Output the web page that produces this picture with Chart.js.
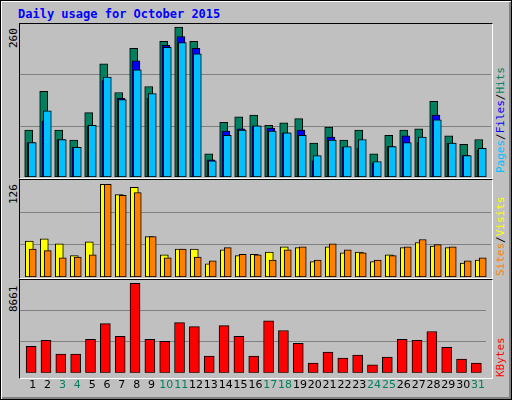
<!DOCTYPE html>
<html><head><meta charset="utf-8">
<script src="https://cdn.jsdelivr.net/npm/chart.js@4"></script>
<style>
body{margin:0;width:512px;height:400px;background:#c0c0c0;overflow:hidden;font-family:"DejaVu Sans Mono",monospace}
#frame{position:absolute;left:0;top:0;width:510px;height:398px;border:1px solid #000;box-shadow:inset 1px 1px 0 #fff,inset -2px -2px 0 #808080}
#title{position:absolute;left:18px;top:7px;color:#0000ff;font-weight:bold;font-size:12px}
.box{position:absolute;border:1px solid #000;border-right-color:#fff;border-bottom-color:#fff;}
.cv{position:absolute}
.rl{position:absolute;font-size:11px;transform-origin:0 0;white-space:nowrap;transform:rotate(-90deg)}
</style></head><body>
<div id="frame"></div>
<div id="title">Daily usage for October 2015</div>
<div class="box" style="left:19px;top:23px;width:472px;height:154px"></div>
<div class="box" style="left:19px;top:179px;width:472px;height:98px"></div>
<div class="box" style="left:19px;top:279px;width:472px;height:98px"></div>
<canvas id="c1" class="cv" style="left:20px;top:24px"></canvas>
<canvas id="c2" class="cv" style="left:20px;top:180px"></canvas>
<canvas id="c3" class="cv" style="left:20px;top:280px"></canvas>
<div class="rl" style="left:7px;top:48px">260</div>
<div class="rl" style="left:7px;top:204px">126</div>
<div class="rl" style="left:7px;top:312px">8661</div>
<div class="rl" style="left:494px;top:173px"><span style="color:#00c0ff">Pages</span>/<span style="color:#0000ff">Files</span>/<span style="color:#008060">Hits</span></div>
<div class="rl" style="left:494px;top:276px"><span style="color:#ff8000">Sites</span>/<span style="color:#ffff00">Visits</span></div>
<div class="rl" style="left:494px;top:377px"><span style="color:#ff0000">KBytes</span></div>
<script>
const days=[1,2,3,4,5,6,7,8,9,10,11,12,13,14,15,16,17,18,19,20,21,22,23,24,25,26,27,28,29,30,31];
const weekend=[3,4,10,11,17,18,24,25,31];
const hits=[79,144,79,62,108,190,142,216,152,228,252,228,39,92,101,104,87,91,98,57,84,62,79,39,70,79,81,127,69,55,63];
const files=[58,94,63,50,86,162,132,195,132,221,236,216,29,77,81,86,82,74,79,27,67,50,48,24,51,69,58,104,57,36,45];
const pages=[58,111,63,50,87,168,130,180,140,218,226,207,27,70,79,86,77,74,70,36,62,51,63,26,51,58,67,96,57,36,48];
const sites=[49,52,45,29,48,126,112,122,55,30,38,38,18,37,29,31,34,41,40,21,41,33,34,21,30,40,47,42,40,19,23];
const visits=[38,36,26,27,30,126,111,115,55,26,38,27,22,40,31,30,23,37,41,23,45,37,33,23,29,41,51,44,41,22,26];
const kbytes=[2568,3139,1807,1807,3234,4756,3520,8661,3234,3044,4851,4471,1617,4566,3520,1617,5041,4090,2853,951,1997,1427,1712,761,1522,3234,3139,3995,2473,1332,951];
const yMax={top:257,mid:132,bot:8980};

function ds(vals,off,color,w){
  return {data:vals.map((v,i)=>({x:days[i]+off,y:v})),backgroundColor:color,borderColor:'#000',borderWidth:1,borderSkipped:false,barThickness:w,grouped:false};
}
function mk(id,w,h,datasets,max,showX){
  const el=document.getElementById(id);el.width=w;el.height=h;el.style.width=w+'px';el.style.height=h+'px';
  new Chart(el,{type:'bar',data:{datasets},options:{
    responsive:false,animation:false,devicePixelRatio:1,
    layout:{padding:0},
    plugins:{legend:{display:false},tooltip:{enabled:false}},
    scales:{
      x:{type:'linear',min:0.27,max:31.67,offset:false,display:showX,grid:{display:false,drawTicks:false},border:{display:false},
         afterBuildTicks:a=>{a.ticks=days.map(d=>({value:d+0.13}));},
         ticks:{autoSkip:false,maxRotation:0,padding:6,font:{family:'DejaVu Sans',size:11},
           callback:(v)=>String(Math.round(v-0.13)),
           color:(c)=>weekend.includes(Math.round(c.tick.value-0.13))?'#008060':'#000'}},
      y:{min:0,max:max,display:true,
         afterBuildTicks:a=>{a.ticks=[{value:max/3},{value:2*max/3}];},
         afterFit:a=>{a.width=0;},
         ticks:{display:false},grid:{color:'#808080',lineWidth:1,drawTicks:false},border:{display:false}}
    }}});
}
mk('c1',471,153,[ds(pages,0.09,'#00c0ff',8),ds(files,0,'#0000ff',8),ds(hits,-0.15,'#008060',8)],yMax.top,false);
mk('c2',471,97,[ds(visits,0.12,'#ff8000',7),ds(sites,-0.11,'#ffff00',8)],yMax.mid,false);
mk('c3',471,118,[ds(kbytes,0.02,'#ff0000',10)],yMax.bot,true);
</script>
</body></html>
